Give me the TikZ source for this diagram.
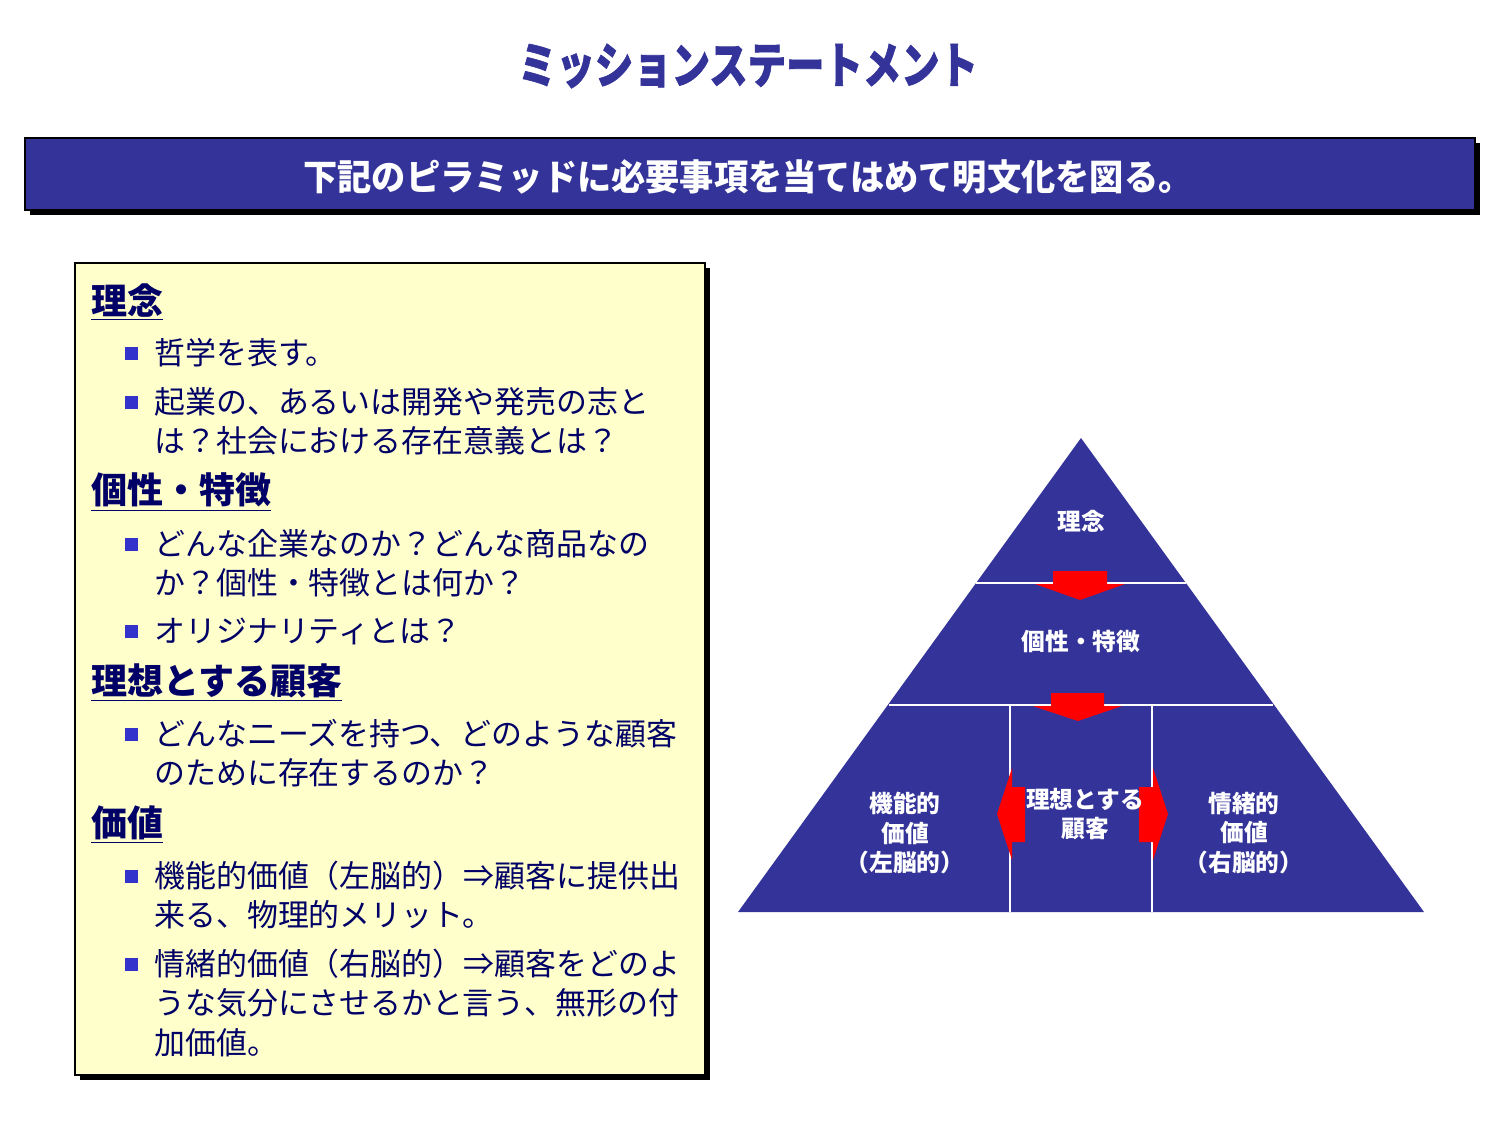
\documentclass[tikz,border=0pt]{standalone}
\usepackage{fontspec}
\setmainfont{Noto Sans CJK JP}
\newfontfamily\titlefont[FakeStretch=0.78,FakeBold=1.2]{Noto Sans CJK JP}
\newfontfamily\bannerfont[FakeStretch=0.95]{Noto Sans CJK JP}
\usepackage{xcolor}
\definecolor{pyrblue}{RGB}{51,51,153}
\definecolor{inkblue}{RGB}{0,0,102}
\definecolor{dotblue}{RGB}{51,51,204}
\definecolor{boxyellow}{RGB}{255,255,204}
\definecolor{arrowred}{RGB}{255,0,0}

\begin{document}
\begin{tikzpicture}[x=0.02cm,y=-0.02cm,
  titel/.style={inner sep=0pt,text=pyrblue,font=\titlefont\fontsize{28}{30}\selectfont\bfseries},
  band/.style={inner sep=0pt,text=white,font=\bannerfont\fontsize{20.5}{22}\selectfont\bfseries},
  kopf/.style={anchor=west,inner sep=0pt,text=inkblue,font=\fontsize{20.5}{22}\selectfont\bfseries},
  zeile/.style={anchor=west,inner sep=0pt,text=inkblue,font=\fontsize{17.6}{20}\selectfont},
  punkt/.style={rectangle,fill=dotblue,minimum size=0.26cm,inner sep=0pt},
  etikett/.style={inner sep=0pt,text=white,align=center,font=\fontsize{13.5}{17}\selectfont\bfseries},
  trenn/.style={white,line width=0.8pt},
  pfeil/.style={fill=arrowred}]
\useasboundingbox (0,0) rectangle (1500,1125);
%\draw[help lines,yellow,thin] (0,0) grid[step=100] (1500,1125);
\node [titel] (T) at (748,66){ミッションステートメント};
\fill [black] (30,143) rectangle (1480,215);
\draw [fill=pyrblue,line width=1pt] (25,138) rectangle (1475,210);
\node [band] (B) at (748,177){下記のピラミッドに必要事項を当てはめて明文化を図る。};
\fill [black] (80,268) rectangle (710,1080);
\draw [fill=boxyellow,line width=1pt] (75,263) rectangle (705,1075);
\node [kopf] (h1) at (91,302){\underline{理念}};
\node [punkt] (p1) at (131,353){};
\node [zeile] (z1) at (154,353){哲学を表す。};
\node [punkt] (p2) at (131,402){};
\node [zeile] (z2) at (154,402){起業の、あるいは開発や発売の志と};
\node [zeile] (z3) at (154,441){は？社会における存在意義とは？};
\node [kopf] (h2) at (91,492){\underline{個性・特徴}};
\node [punkt] (p3) at (131,544){};
\node [zeile] (z4) at (154,544){どんな企業なのか？どんな商品なの};
\node [zeile] (z5) at (154,583){か？個性・特徴とは何か？};
\node [punkt] (p4) at (131,631){};
\node [zeile] (z6) at (154,631){オリジナリティとは？};
\node [kopf] (h3) at (91,683){\underline{理想とする顧客}};
\node [punkt] (p5) at (131,734){};
\node [zeile] (z7) at (154,734){どんなニーズを持つ、どのような顧客};
\node [zeile] (z8) at (154,773){のために存在するのか？};
\node [kopf] (h4) at (91,825){\underline{価値}};
\node [punkt] (p6) at (131,876){};
\node [zeile] (z9) at (154,876){機能的価値（左脳的）⇒顧客に提供出};
\node [zeile] (z10) at (154,915){来る、物理的メリット。};
\node [punkt] (p7) at (131,964){};
\node [zeile] (z11) at (154,964){情緒的価値（右脳的）⇒顧客をどのよ};
\node [zeile] (z12) at (154,1003){うな気分にさせるかと言う、無形の付};
\node [zeile] (z13) at (154,1043){加価値。};
\coordinate (apex) at (1081,438);
\coordinate (bl) at (738,912);
\coordinate (br) at (1424,912);
\fill [pyrblue] (apex) -- (bl) -- (br) -- cycle;
\draw [trenn] (976,583) -- (1186,583);
\draw [trenn] (889,705) -- (1273,705);
\draw [trenn] (1010,705) -- (1010,912);
\draw [trenn] (1152,705) -- (1152,912);
\fill [pfeil] (1053,571) -- (1107,571) -- (1107,584) -- (1125,584) -- (1080,600) -- (1035,584) -- (1053,584) -- cycle;
\fill [pfeil] (1051,693) -- (1104,693) -- (1104,706) -- (1122,706) -- (1078,721) -- (1033,706) -- (1051,706) -- cycle;
\fill [pfeil] (1025,787) -- (1025,842) -- (1012,842) -- (1012,860) -- (997,814) -- (1012,768) -- (1012,787) -- cycle;
\fill [pfeil] (1139,787) -- (1139,842) -- (1153,842) -- (1153,860) -- (1168,814) -- (1153,768) -- (1153,787) -- cycle;
\node [etikett] (e1) at (1081,521){理念};
\node [etikett] (e2) at (1081,642){個性・特徴};
\node [etikett,font=\fontsize{13.5}{16}\selectfont\bfseries] (e3) at (1085,814){理想とする\\顧客};
\node [etikett] (e4) at (905,833){機能的\\価値\\（左脳的）};
\node [etikett] (e5) at (1244,833){情緒的\\価値\\（右脳的）};
\end{tikzpicture}
\end{document}
